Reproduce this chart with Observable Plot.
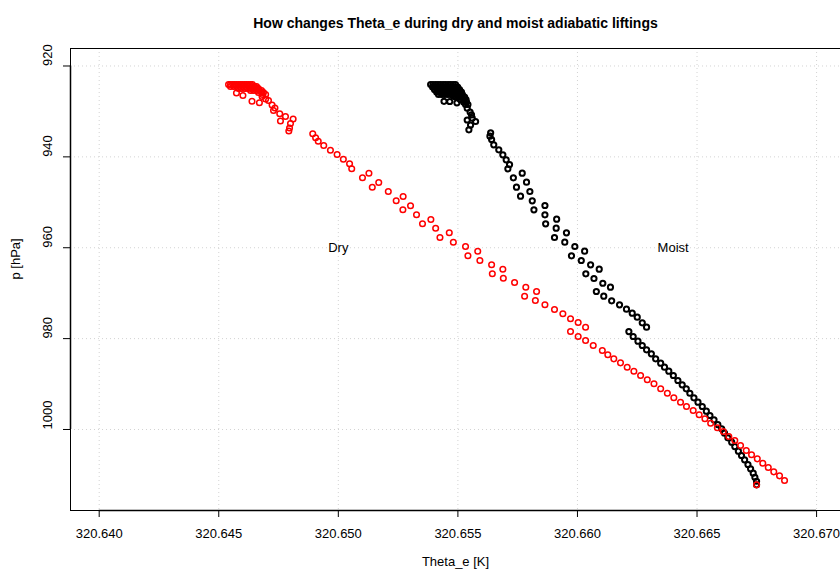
<!DOCTYPE html>
<html><head><meta charset="utf-8">
<script src="https://cdn.jsdelivr.net/npm/d3@7"></script>
<script src="https://cdn.jsdelivr.net/npm/@observablehq/plot@0.6"></script>
<style>html,body{margin:0;padding:0;background:#fff;} svg{display:block;}</style>
</head><body><div id="chart"></div>
<script>
const titleText = "How changes Theta_e during dry and moist adiabatic liftings";
const xLabel = "Theta_e [K]";
const yLabel = "p [hPa]";
const xTicks = [320.640, 320.645, 320.650, 320.655, 320.660, 320.665, 320.670];
const yTicks = [920, 940, 960, 980, 1000];
const xDomain = [320.6388, 320.6710];
const yDomain = [916.15, 1017.83];
const seriesLabels = ["Dry", "Moist"];
const labelTheta = [320.650, 320.664];
const labelP = [960, 960];

// Dry adiabatic lifting (red)
const dryTheta = [
 320.64541,320.64549,320.64558,320.64566,320.64574,320.64583,320.64591,320.64599,320.64608,320.64616,320.64624,320.64633,320.64641,
 320.64549,320.64562,320.64574,320.64587,320.64599,320.64612,320.64624,320.64637,320.64650,320.64658,
 320.64583,320.64595,320.64608,320.64620,320.64633,320.64645,320.64658,320.64666,
 320.64633,320.64645,320.64658,320.64670,320.64679,
 320.64666,320.64679,320.64687,
 320.64683,320.64696,
 320.64574,320.64601,320.64639,320.64670,320.64681,320.64696,320.64708,320.64723,320.64735,320.64729,320.64755,320.64779,320.64758,320.64811,320.64800,320.64796,320.64793,
 320.64893,320.64905,320.64916,320.64939,320.64967,320.64995,320.65021,320.65047,320.65056,320.65101,
 320.65128,320.65142,320.65169,320.65209,320.65242,320.65271,320.65270,320.65302,320.65327,320.65352,
 320.65387,320.65407,320.65425,320.65464,320.65481,320.65532,320.65583,320.65542,320.65592,320.65641,
 320.65688,320.65644,320.65690,320.65737,320.65784,320.65829,320.65779,320.65824,320.65864,320.65904,
 320.65939,320.65971,320.66003,320.66034,320.65971,320.66003,320.66034,320.66066,320.66104,320.66127,
 320.66152,320.66180,320.66208,320.66236,320.66264,320.66292,320.66320,320.66348,320.66376,320.66403,
 320.66431,320.66456,320.66484,320.66509,320.66533,320.66557,320.66585,320.66610,320.66633,320.66658,
 320.66682,320.66706,320.66728,320.66752,320.66775,320.66798,320.66821,320.66845,320.66866,320.66749
];
const dryP = [
 924.07,924.07,924.07,924.07,924.07,924.07,924.07,924.07,924.07,924.07,924.07,924.07,924.07,
 924.51,924.51,924.51,924.51,924.51,924.51,924.51,924.51,924.51,924.51,
 924.95,924.95,924.95,924.95,924.95,924.95,924.95,924.95,
 925.39,925.39,925.39,925.39,925.39,
 925.83,925.83,925.83,
 926.27,926.27,
 925.94,926.49,927.75,928.10,926.71,927.26,927.59,928.58,929.24,929.79,930.52,931.12,932.11,931.67,932.66,933.65,934.31,
 934.92,935.80,936.55,937.50,938.53,939.48,940.51,941.53,942.63,944.61,
 943.59,946.68,945.64,947.62,949.67,948.72,951.65,950.77,952.75,954.73,
 953.79,955.70,957.75,956.71,958.78,959.73,960.76,961.77,962.81,963.76,
 964.72,965.74,966.71,967.65,968.69,969.63,970.67,971.61,972.56,973.59,
 974.54,975.64,976.46,977.49,978.44,979.54,980.42,981.52,982.62,983.56,
 984.45,985.33,986.29,987.17,988.12,989.07,989.95,991.05,992.02,993.03,
 994.00,994.94,995.82,996.77,997.65,998.62,999.63,1000.45,1001.55,1002.43,
 1003.53,1004.63,1005.57,1006.46,1007.42,1008.37,1009.32,1010.20,1011.23,1012.18
];

// Moist adiabatic lifting (black)
const moistTheta = [
 320.65386,320.65396,320.65407,320.65417,320.65427,320.65438,320.65448,320.65459,320.65469,320.65480,320.65490,
 320.65394,320.65404,320.65415,320.65425,320.65436,320.65446,320.65457,320.65467,320.65478,320.65488,320.65499,
 320.65402,320.65413,320.65423,320.65434,320.65444,320.65455,320.65465,320.65476,320.65486,320.65496,320.65507,
 320.65411,320.65421,320.65432,320.65442,320.65453,320.65463,320.65473,320.65484,320.65494,320.65505,320.65515,
 320.65419,320.65432,320.65444,320.65457,320.65469,320.65482,320.65494,320.65507,320.65519,
 320.65490,320.65503,320.65515,320.65528,
 320.65511,320.65524,320.65534,
 320.65524,320.65536,
 320.65532,320.65542,
 320.65442,320.65466,320.65481,320.65496,320.65511,320.65539,320.65551,320.65557,320.65539,320.65560,320.65574,320.65553,320.65546,
 320.65637,320.65634,320.65641,320.65650,320.65671,320.65688,320.65702,320.65716,320.65709,320.65732,
 320.65769,320.65745,320.65787,320.65762,320.65801,320.65811,320.65818,320.65864,320.65864,320.65867,
 320.65913,320.65911,320.65904,320.65954,320.65947,320.65989,320.66030,320.65975,320.66016,320.66055,
 320.66091,320.66035,320.66069,320.66106,320.66138,320.66079,320.66110,320.66143,320.66176,320.66205,
 320.66229,320.66250,320.66271,320.66289,
 320.66215,320.66233,320.66253,320.66271,320.66289,320.66309,320.66327,320.66348,320.66364,320.66382,
 320.66401,320.66420,320.66438,320.66455,320.66470,320.66487,320.66504,320.66522,320.66539,320.66554,
 320.66571,320.66587,320.66603,320.66615,320.66629,320.66645,320.66658,320.66673,320.66686,320.66699,
 320.66713,320.66724,320.66735,320.66742,320.66749,320.66749
];
const moistP = [
 924.07,924.07,924.07,924.07,924.07,924.07,924.07,924.07,924.07,924.07,924.07,
 924.62,924.62,924.62,924.62,924.62,924.62,924.62,924.62,924.62,924.62,924.62,
 925.17,925.17,925.17,925.17,925.17,925.17,925.17,925.17,925.17,925.17,925.17,
 925.72,925.72,925.72,925.72,925.72,925.72,925.72,925.72,925.72,925.72,925.72,
 926.27,926.27,926.27,926.27,926.27,926.27,926.27,926.27,926.27,
 926.82,926.82,926.82,926.82,
 927.37,927.37,927.37,
 927.92,927.92,
 928.47,928.47,
 927.77,927.81,926.60,928.10,927.37,929.29,930.12,930.78,931.89,931.49,932.22,932.99,934.04,
 934.70,935.45,936.18,937.34,938.44,939.54,940.65,941.68,942.63,944.61,
 943.59,946.68,945.58,948.66,947.62,949.67,951.65,950.70,952.75,954.73,
 953.72,955.70,957.75,956.71,958.78,959.73,960.76,961.77,962.81,963.76,
 964.72,965.74,966.77,967.81,968.69,969.63,970.67,971.68,972.56,973.53,
 974.41,975.29,976.52,977.49,
 978.44,979.54,980.57,981.52,982.46,983.35,984.45,985.41,986.29,987.17,
 988.12,989.22,990.17,991.05,992.02,993.03,994.00,994.94,995.98,996.92,
 997.87,998.91,999.85,1000.82,1001.83,1002.80,1003.75,1004.78,1005.73,1006.68,
 1007.71,1008.66,1009.62,1010.51,1011.39,1012.18
];

const dry = dryTheta.map((t, i) => ({theta: t, p: dryP[i]}));
const moist = moistTheta.map((t, i) => ({theta: t, p: moistP[i]}));
const labels = seriesLabels.map((s, i) => ({text: s, theta: labelTheta[i], p: labelP[i]}));

const font = "'Liberation Sans', Arial, Helvetica, sans-serif";
const grid = {stroke: "#d3d3d3", strokeOpacity: 1, strokeWidth: 1, strokeDasharray: "1,3"};

const chart = Plot.plot({
  width: 840,
  height: 574,
  marginTop: 48,
  marginLeft: 70,
  marginRight: 0,
  marginBottom: 64,
  style: {fontFamily: font, background: "#fff", color: "#000", fontSize: "13px"},
  x: {domain: xDomain},
  y: {domain: yDomain, reverse: true},
  marks: [
    Plot.ruleX(xTicks, grid),
    Plot.ruleY(yTicks, grid),
    Plot.ruleY(yDomain, {stroke: "#000", strokeWidth: 1}),
    Plot.ruleX([xDomain[0]], {stroke: "#000", strokeWidth: 1}),
    Plot.ruleY([yDomain[1]], {x1: xTicks[0], x2: xTicks[xTicks.length - 1], stroke: "#000", strokeWidth: 1.5}),
    Plot.ruleX([xDomain[0]], {y1: yTicks[0], y2: yTicks[yTicks.length - 1], stroke: "#000", strokeWidth: 1.5}),
    Plot.axisX(xTicks, {tickSize: 7, tickPadding: 11, fontSize: 13, tickFormat: d3.format(".3f"), label: null, stroke: "#000"}),
    Plot.axisY(yTicks, {tickSize: 7, tickFormat: () => "", label: null, stroke: "#000"}),
    Plot.text(yTicks, {y: d => d, text: d => String(d), frameAnchor: "left", dx: -23, rotate: -90, fontSize: 13, fill: "#000"}),
    Plot.dot(moist, {x: "theta", y: "p", r: 2.6, stroke: "#000", strokeWidth: 2, fill: "none"}),
    Plot.dot(dry, {x: "theta", y: "p", r: 2.8, stroke: "#ff0000", strokeWidth: 1.5, fill: "none"}),
    Plot.text(labels, {x: "theta", y: "p", text: "text", fontSize: 13, fill: "#000"}),
    Plot.text([titleText], {frameAnchor: "top", dy: -30, fontSize: 14, fontWeight: "bold", fill: "#000"}),
    Plot.text([xLabel], {frameAnchor: "bottom", dy: 55, fontSize: 13, fill: "#000"}),
    Plot.text([yLabel], {frameAnchor: "left", dx: -55, rotate: -90, fontSize: 13, fill: "#000"})
  ]
});
document.getElementById("chart").appendChild(chart);
</script>
</body></html>
